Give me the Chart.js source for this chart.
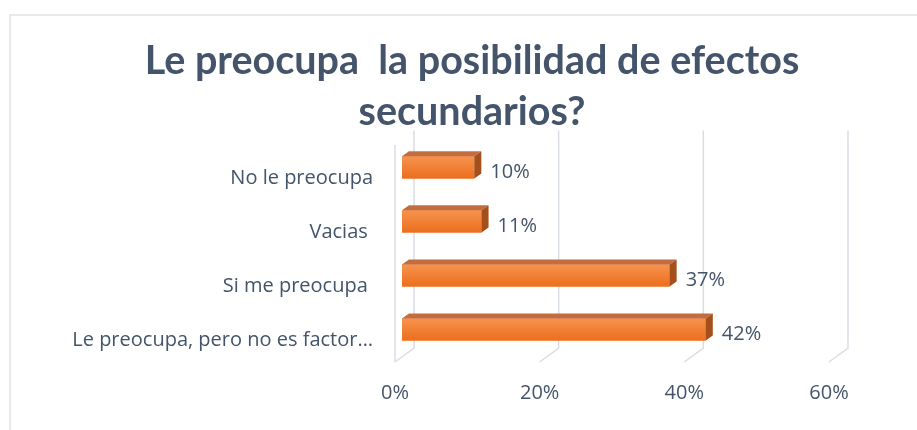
<!DOCTYPE html>
<html>
<head>
<meta charset="utf-8">
<script src="https://cdn.jsdelivr.net/npm/chart.js@4/dist/chart.umd.min.js"></script>
<style>
  html, body { margin: 0; padding: 0; background: #ffffff; }
  #wrap { position: relative; width: 917px; height: 430px; }
</style>
</head>
<body>
<div id="wrap"><canvas id="c" width="917" height="430"></canvas></div>
<script>
const categories = ['No le preocupa', 'Vacias ', 'Si me preocupa ', 'Le preocupa, pero no es factor…'];
const values = [10, 11, 37, 42];
const xTickValues = [0, 20, 40, 60];
const titleLines = ['Le preocupa  la posibilidad de efectos', 'secundarios?'];

const TEXT = '#44546a';
const GRID = '#d9dde6';
const TITLE_FONT = 'Lato, "Open Sans", sans-serif';
const FONT = '"Open Sans", Lato, sans-serif';

const chartFrame = {
  id: 'chartFrame',
  beforeDraw(chart) {
    const ctx = chart.ctx;
    ctx.save();
    ctx.fillStyle = '#ffffff';
    ctx.fillRect(0, 0, chart.width, chart.height);
    ctx.strokeStyle = '#dfe2e8';
    ctx.lineWidth = 1.5;
    ctx.beginPath();
    ctx.moveTo(10, chart.height);
    ctx.lineTo(10, 15);
    ctx.lineTo(chart.width, 15);
    ctx.stroke();
    ctx.restore();
  }
};

const grid3d = {
  id: 'grid3d',
  beforeDatasetsDraw(chart) {
    const ctx = chart.ctx;
    const xs = chart.scales.x;
    const a = chart.chartArea;
    ctx.save();
    ctx.strokeStyle = GRID;
    ctx.lineWidth = 1.5;
    xTickValues.forEach(v => {
      const p = xs.getPixelForValue(v);
      const back = p + 12, front = p - 7;
      ctx.beginPath();
      ctx.moveTo(back, a.top - 10);
      ctx.lineTo(back, a.bottom - 8.5);
      ctx.lineTo(front, a.bottom + 5.5);
      ctx.stroke();
    });
    const p0 = xs.getPixelForValue(0) - 7;
    ctx.beginPath();
    ctx.moveTo(p0, a.top + 4.5);
    ctx.lineTo(p0, a.bottom + 5.5);
    ctx.stroke();
    ctx.restore();
  }
};

const bars3d = {
  id: 'bars3d',
  afterDatasetsDraw(chart) {
    const ctx = chart.ctx;
    const meta = chart.getDatasetMeta(0);
    ctx.save();
    meta.data.forEach((el, i) => {
      const { x, y, base, height } = el.getProps(['x', 'y', 'base', 'height'], true);
      const top = y - height / 2, bot = y + height / 2;
      const dx = 7, dy = 5;
      const g = ctx.createLinearGradient(0, top, 0, bot);
      g.addColorStop(0, '#f6934f');
      g.addColorStop(1, '#ec6e1d');
      ctx.fillStyle = g;
      ctx.fillRect(base, top, x - base, height);
      // top face
      ctx.fillStyle = '#c36c3f';
      ctx.beginPath();
      ctx.moveTo(base, top);
      ctx.lineTo(x, top);
      ctx.lineTo(x + dx, top - dy);
      ctx.lineTo(base + dx, top - dy);
      ctx.closePath();
      ctx.fill();
      // side face
      ctx.fillStyle = '#a5501c';
      ctx.beginPath();
      ctx.moveTo(x, top);
      ctx.lineTo(x + dx, top - dy);
      ctx.lineTo(x + dx, bot - dy);
      ctx.lineTo(x, bot);
      ctx.closePath();
      ctx.fill();
      // value label
      ctx.fillStyle = TEXT;
      ctx.font = '20px ' + FONT;
      ctx.textAlign = 'left';
      ctx.textBaseline = 'middle';
      ctx.fillText(values[i] + '%', x + 16, y + 4.5);
    });
    ctx.restore();
  }
};

new Chart(document.getElementById('c'), {
  type: 'bar',
  data: {
    labels: categories,
    datasets: [{
      data: values,
      backgroundColor: '#ef7a2c',
      borderWidth: 0,
      barPercentage: 0.41,
      categoryPercentage: 1
    }]
  },
  options: {
    indexAxis: 'y',
    responsive: false,
    animation: false,
    layout: { padding: { left: 27, right: 0, top: 0, bottom: 0 } },
    plugins: {
      legend: { display: false },
      tooltip: { enabled: false },
      title: {
        display: true,
        text: titleLines,
        color: TEXT,
        font: { family: TITLE_FONT, size: 39.5, weight: 'bold', lineHeight: 1.29 },
        padding: { top: 36, bottom: 2.5 }
      }
    },
    scales: {
      x: {
        min: 0,
        max: 71.2,
        afterFit(scale) { scale.height = 73.5; },
        afterBuildTicks(scale) { scale.ticks = xTickValues.map(v => ({ value: v })); },
        grid: { display: false, drawTicks: false },
        border: { display: false },
        ticks: {
          color: TEXT,
          font: { family: FONT, size: 20 },
          padding: 25,
          labelOffset: -7,
          maxRotation: 0,
          callback: v => v + '%'
        }
      },
      y: {
        afterFit(scale) { scale.width = 375; },
        grid: { display: false, drawTicks: false },
        border: { display: false },
        ticks: {
          color: TEXT,
          font: { family: FONT, size: 20 },
          padding: 29,
          labelOffset: 11,
          autoSkip: false
        }
      }
    }
  },
  plugins: [chartFrame, grid3d, bars3d]
});
</script>
</body>
</html>
